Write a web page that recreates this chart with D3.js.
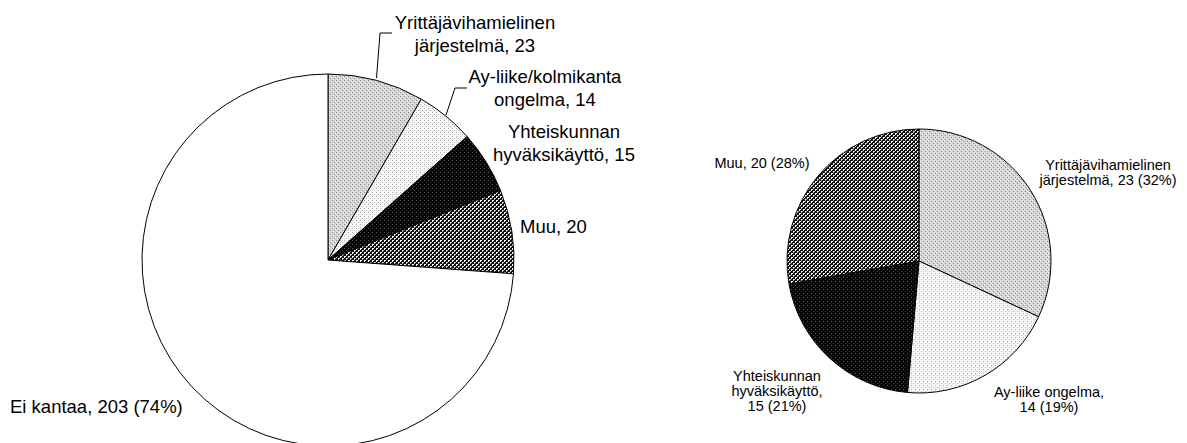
<!DOCTYPE html>
<html>
<head>
<meta charset="utf-8">
<script src="https://cdn.jsdelivr.net/npm/d3@7"></script>
<style>
  body { margin: 0; background: #fff; }
  svg { display: block; }
  text { font-family: Arial, "Liberation Sans", sans-serif; fill: #000; }
</style>
</head>
<body>
<svg width="1187" height="443"></svg>
<script>
// data
var leftValues = [23, 14, 15, 20, 203];
var leftLines = [
  ["Yrittäjävihamielinen", "järjestelmä, {v}"],
  ["Ay-liike/kolmikanta", "ongelma, {v}"],
  ["Yhteiskunnan", "hyväksikäyttö, {v}"],
  ["Muu, {v}"],
  ["Ei kantaa, {v} ({p})"]
];
var rightValues = [23, 14, 15, 20];
var rightLines = [
  ["Yrittäjävihamielinen", "järjestelmä, {v} ({p})"],
  ["Ay-liike ongelma,", "{v} ({p})"],
  ["Yhteiskunnan", "hyväksikäyttö,", "{v} ({p})"],
  ["Muu, {v} ({p})"]
];
var fills = ["url(#pGray)", "url(#pLight)", "url(#pBlack)", "url(#pCheck)", "#fff"];

var svg = d3.select("svg");

// patterns
var defs = svg.append("defs");
function pattern(id, size, bg, dots) {
  var p = defs.append("pattern").attr("id", id)
    .attr("patternUnits", "userSpaceOnUse")
    .attr("width", size).attr("height", size);
  p.append("rect").attr("width", size).attr("height", size).attr("fill", bg);
  dots.forEach(function(d) {
    p.append("rect").attr("x", d[0]).attr("y", d[1])
      .attr("width", 1).attr("height", 1).attr("fill", d[2]);
  });
}
pattern("pGray", 4, "#d6d6d6", [[0,0,"#8a8a8a"],[2,2,"#8a8a8a"],[1,3,"#f4f4f4"],[3,1,"#f4f4f4"]]);
pattern("pLight", 4, "#f6f6f6", [[0,0,"#b0b0b0"],[2,2,"#c4c4c4"],[0,2,"#dcdcdc"]]);
pattern("pBlack", 4, "#050505", [[0,0,"#5a5a5a"],[2,2,"#3a3a3a"]]);
pattern("pCheck", 4, "#111", [[0,0,"#fff"],[1,0,"#fff"],[0,1,"#fff"],[2,2,"#fff"],[3,2,"#bbb"],[2,3,"#bbb"]]);

function fmt(str, v, total) {
  var p = Math.round(v / total * 100) + "%";
  return str.replace("{v}", v).replace("{p}", p);
}

var pie = d3.pie().sort(null).value(function(d) { return d; });

function drawPie(values, cx, cy, r) {
  var arc = d3.arc().innerRadius(0).outerRadius(r);
  var g = svg.append("g").attr("transform", "translate(" + cx + "," + cy + ")");
  g.selectAll("path").data(pie(values)).enter().append("path")
    .attr("d", arc)
    .attr("fill", function(d, i) { return fills[i]; })
    .attr("stroke", "#000")
    .attr("stroke-width", 1);
  return g;
}

function drawLabels(lines, values, anchors, size, lh) {
  var total = d3.sum(values);
  lines.forEach(function(ls, i) {
    var a = anchors[i];
    var t = svg.append("text")
      .attr("x", a[0]).attr("y", a[1])
      .attr("text-anchor", a[2])
      .style("font-size", size + "px");
    ls.forEach(function(l, j) {
      t.append("tspan").attr("x", a[0]).attr("y", a[1] + j * lh)
        .text(fmt(l, values[i], total));
    });
  });
}

// left pie
var lcx = 328, lcy = 260, lr = 186;
drawPie(leftValues, lcx, lcy, lr);
drawLabels(leftLines, leftValues, [
  [475, 29, "middle"],
  [545, 83, "middle"],
  [564, 138, "middle"],
  [520, 233, "start"],
  [10, 413, "start"]
], 18.5, 22.5);

// leader lines
var leader = d3.line();
svg.append("path").attr("d", leader([[392, 33], [380, 33], [376.5, 78]]))
  .attr("fill", "none").attr("stroke", "#000").attr("stroke-width", 1);
svg.append("path").attr("d", leader([[467, 88], [455, 88], [446, 115]]))
  .attr("fill", "none").attr("stroke", "#000").attr("stroke-width", 1);

// right pie
var rcx = 919, rcy = 261, rr = 132;
drawPie(rightValues, rcx, rcy, rr);
drawLabels(rightLines, rightValues, [
  [1108, 170, "middle"],
  [1049, 397, "middle"],
  [777, 381, "middle"],
  [762, 168, "middle"]
], 14.5, 15);
</script>
</body>
</html>
